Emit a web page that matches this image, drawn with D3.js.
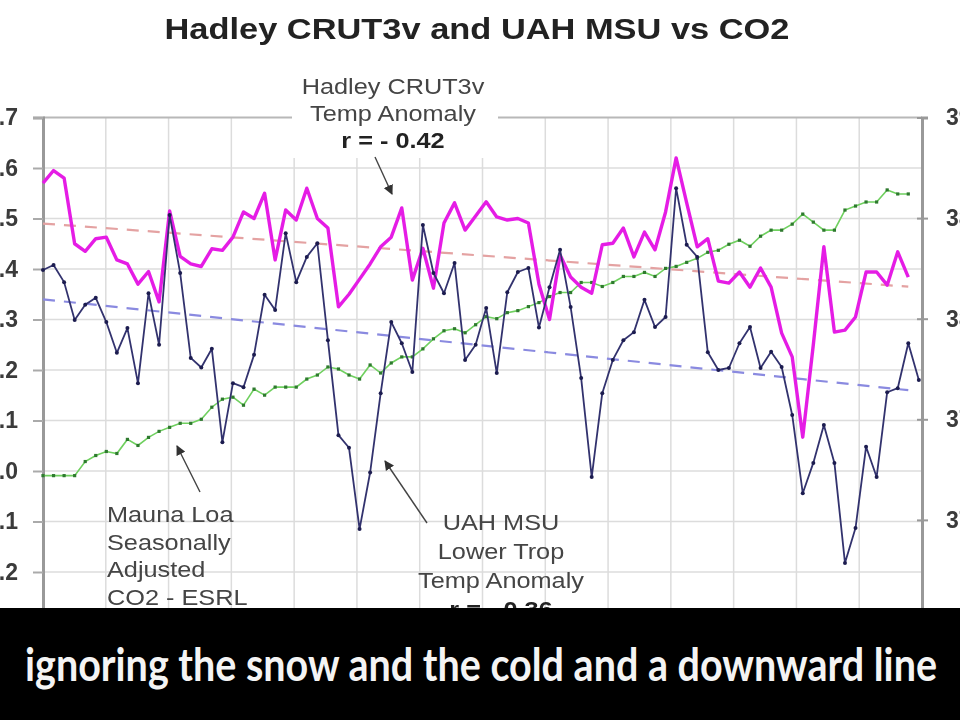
<!DOCTYPE html>
<html>
<head>
<meta charset="utf-8">
<script src="https://cdn.jsdelivr.net/npm/d3@7/dist/d3.min.js"></script>
<style>
  html, body { margin: 0; padding: 0; background: #fff; }
  svg { display: block; }
</style>
</head>
<body>
<svg id="chart" width="960" height="720"></svg>
<script>
// ---------------- DATA ----------------
// monthly index 0 = Jan 2002
const hadley = [0.57,0.595,0.58,0.45,0.435,0.46,0.463,0.418,0.41,0.37,0.395,0.335,
  0.515,0.425,0.41,0.405,0.44,0.437,0.463,0.513,0.50,0.55,0.418,0.517,
  0.497,0.56,0.50,0.481,0.325,0.35,0.38,0.41,0.444,0.463,0.521,0.378,
  0.441,0.362,0.491,0.531,0.477,0.505,0.533,0.503,0.497,0.50,0.491,0.37,
  0.30,0.428,0.384,0.364,0.352,0.448,0.451,0.481,0.424,0.473,0.438,0.513,
  0.62,0.531,0.444,0.46,0.376,0.372,0.394,0.364,0.402,0.364,0.273,0.226,
  0.067,0.25,0.444,0.275,0.279,0.305,0.394,0.394,0.368,0.434,0.384];
const uah = [0.398,0.408,0.374,0.299,0.329,0.343,0.295,0.234,0.283,0.174,0.352,0.25,
  0.507,0.392,0.224,0.205,0.242,0.057,0.174,0.166,0.23,0.349,0.319,0.471,
  0.374,0.424,0.451,0.259,0.071,0.046,-0.115,-0.003,0.154,0.295,0.253,0.196,
  0.487,0.392,0.352,0.412,0.22,0.25,0.323,0.194,0.354,0.394,0.402,0.284,
  0.364,0.438,0.325,0.184,-0.012,0.154,0.22,0.259,0.275,0.339,0.285,0.305,
  0.56,0.448,0.424,0.235,0.20,0.204,0.253,0.285,0.204,0.236,0.206,0.111,
  -0.044,0.016,0.091,0.016,-0.182,-0.113,0.048,-0.012,0.156,0.164,0.253,0.18];
const co2 = [372.2,372.2,372.2,372.2,372.9,373.2,373.4,373.3,374.0,373.7,374.1,374.4,
  374.6,374.8,374.8,375.0,375.6,376.0,376.1,375.7,376.5,376.2,376.6,376.6,
  376.6,377.0,377.2,377.6,377.5,377.2,377.0,377.7,377.3,377.8,378.1,378.1,
  378.5,379.0,379.4,379.5,379.3,379.7,380.1,380.0,380.3,380.4,380.6,380.8,
  381.1,381.3,381.3,381.8,381.8,381.6,381.8,382.1,382.1,382.3,382.1,382.5,
  382.6,382.8,383.0,383.3,383.4,383.7,383.9,383.6,384.1,384.4,384.4,384.7,
  385.2,384.8,384.4,384.4,385.4,385.6,385.8,385.8,386.4,386.2,386.2];
// linear trend end values [month index, value]
const hadleyTrend = [[0, 0.49], [82, 0.365]];
const uahTrend = [[0, 0.34], [82, 0.16]];
const leftTicks = [0.7,0.6,0.5,0.4,0.3,0.2,0.1,0.0,-0.1,-0.2,-0.3];
const rightTicks = [390,385,380,375,370,365];
const gridCount = 14; // vertical gridlines every 6 months

const titleText = "Hadley CRUT3v and UAH MSU vs CO2";
const hadleyLabel = ["Hadley CRUT3v", "Temp Anomaly", "r = - 0.42"];
const uahLabel = ["UAH MSU", "Lower Trop", "Temp Anomaly", "r = - 0.36"];
const co2Label = ["Mauna Loa", "Seasonally", "Adjusted", "CO2 - ESRL"];
const caption = "ignoring the snow and the cold and a downward line";

// ---------------- LAYOUT ----------------
const svg = d3.select("#chart");
const L = 43, R = 922, T = 117.5, B = 622.5;

const x = d3.scaleLinear().domain([0, 83.3]).range([L, R]);
const xg = d3.scaleLinear().domain([0, gridCount]).range([L, R]);
const yL = d3.scaleLinear().domain([-0.3, 0.7]).range([B, T]);
const yR = d3.scaleLinear().domain([364.9, 390]).range([B, T]);

svg.append("rect").attr("width", 960).attr("height", 720).attr("fill", "#fff");

const defs = svg.append("defs");
defs.append("marker").attr("id", "arrow").attr("viewBox", "0 0 10 10")
  .attr("refX", 9).attr("refY", 5).attr("markerWidth", 7).attr("markerHeight", 7)
  .attr("orient", "auto-start-reverse")
  .append("path").attr("d", "M0,0 L10,5 L0,10 z").attr("fill", "#333");
defs.append("filter").attr("id", "soft").append("feGaussianBlur").attr("stdDeviation", 0.6);

const g = svg.append("g").attr("filter", "url(#soft)");
const font = "Liberation Sans, Arial, sans-serif";

// gridlines
g.append("g").selectAll("line").data(d3.range(1, gridCount)).join("line")
  .attr("x1", d => xg(d)).attr("x2", d => xg(d)).attr("y1", T).attr("y2", B)
  .attr("stroke", "#dcdcdc").attr("stroke-width", 1.5);
g.append("g").selectAll("line").data(leftTicks.slice(1)).join("line")
  .attr("x1", L).attr("x2", R).attr("y1", d => yL(d)).attr("y2", d => yL(d))
  .attr("stroke", "#dcdcdc").attr("stroke-width", 1.5);
// top border
g.append("line").attr("x1", L).attr("x2", R).attr("y1", T).attr("y2", T)
  .attr("stroke", "#b8b8b8").attr("stroke-width", 2);

// axes
const axL = d3.axisLeft(yL).tickValues(leftTicks).tickSize(10).tickFormat(d3.format(".1f"));
const gl = g.append("g").attr("transform", `translate(${L},0)`).call(axL);
gl.select(".domain").attr("stroke", "#999").attr("stroke-width", 3);
gl.selectAll(".tick line").attr("stroke", "#aaa").attr("stroke-width", 2);
gl.selectAll(".tick text").attr("x", -25).attr("fill", "#3a3a3a")
  .attr("font-family", font).attr("font-size", 23).attr("font-weight", "bold");

const axR = d3.axisRight(yR).tickValues(rightTicks).tickSize(6).tickFormat(d3.format("d"));
const gr = g.append("g").attr("transform", `translate(${R},0)`).call(axR);
gr.select(".domain").attr("stroke", "#999").attr("stroke-width", 3);
gr.selectAll(".tick line").attr("x1", -5).attr("stroke", "#999").attr("stroke-width", 2);
gr.selectAll(".tick text").attr("x", 24).attr("fill", "#3a3a3a")
  .attr("font-family", font).attr("font-size", 23).attr("font-weight", "bold");

// white label box for the Hadley label over the top border
g.append("rect").attr("x", 292).attr("y", 70).attr("width", 206).attr("height", 88).attr("fill", "#fff");

// trend lines
const trendLine = d3.line().x(d => x(d[0])).y(d => yL(d[1]));
g.append("path").datum(hadleyTrend).attr("d", trendLine).attr("fill", "none")
  .attr("stroke", "#e4a2a2").attr("stroke-width", 2.2).attr("stroke-dasharray", "12,9");
g.append("path").datum(uahTrend).attr("d", trendLine).attr("fill", "none")
  .attr("stroke", "#8a8ae0").attr("stroke-width", 2.2).attr("stroke-dasharray", "12,9");

// CO2 line
const lineCO2 = d3.line().x((d, i) => x(i)).y(d => yR(d));
g.append("path").datum(co2).attr("d", lineCO2).attr("fill", "none")
  .attr("stroke", "#6fd05f").attr("stroke-width", 1.6);
g.append("g").selectAll("rect").data(co2).join("rect")
  .attr("x", (d, i) => x(i) - 1.6).attr("y", d => yR(d) - 1.6)
  .attr("width", 3.2).attr("height", 3.2).attr("fill", "#2f7a2f");

// Hadley line
const lineL = d3.line().x((d, i) => x(i)).y(d => yL(d));
g.append("path").datum(hadley).attr("d", lineL).attr("fill", "none")
  .attr("stroke", "#e51fe5").attr("stroke-width", 3.4).attr("stroke-linejoin", "round");

// UAH line
g.append("path").datum(uah).attr("d", lineL).attr("fill", "none")
  .attr("stroke", "#33336e").attr("stroke-width", 1.8).attr("stroke-linejoin", "round");
g.append("g").selectAll("circle").data(uah).join("circle")
  .attr("cx", (d, i) => x(i)).attr("cy", d => yL(d)).attr("r", 2).attr("fill", "#1e1e50");

// annotations (horizontally stretched like the video frame)
function block(lines, cx, y0, dy, anchor, boldLast) {
  const t = g.append("g");
  lines.forEach((s, i) => {
    const bold = boldLast && i === lines.length - 1;
    t.append("text").attr("transform", `translate(${cx},${y0 + i * dy}) scale(1.15,1)`)
      .attr("text-anchor", anchor)
      .attr("font-family", font).attr("font-size", 22)
      .attr("font-weight", bold ? "bold" : "normal")
      .attr("fill", bold ? "#222" : "#454545")
      .text(s);
  });
}
block(hadleyLabel, 393, 94, 27, "middle", true);
block(uahLabel, 501, 530, 29, "middle", true);
block(co2Label, 107, 522, 27.5, "start", false);

// arrows
function arrow(x1, y1, x2, y2) {
  g.append("line").attr("x1", x1).attr("y1", y1).attr("x2", x2).attr("y2", y2)
    .attr("stroke", "#444").attr("stroke-width", 1.4).attr("marker-end", "url(#arrow)");
}
arrow(375, 157, 392, 194);
arrow(200, 492, 177, 446);
arrow(427, 523, 385, 461);

// title
svg.append("text").attr("x", 477).attr("y", 39).attr("text-anchor", "middle")
  .attr("font-family", font).attr("font-size", 29).attr("font-weight", "bold")
  .attr("fill", "#222").attr("textLength", 625).attr("lengthAdjust", "spacingAndGlyphs")
  .attr("filter", "url(#soft)")
  .text(titleText);

// caption bar
svg.append("rect").attr("x", 0).attr("y", 608).attr("width", 960).attr("height", 112).attr("fill", "#000");
svg.append("text").attr("x", 25).attr("y", 681)
  .attr("font-family", "Lato, 'Open Sans', sans-serif").attr("font-size", 46).attr("font-weight", "bold")
  .attr("fill", "#f4f4f4").attr("textLength", 912).attr("lengthAdjust", "spacingAndGlyphs")
  .text(caption);
</script>
</body>
</html>
